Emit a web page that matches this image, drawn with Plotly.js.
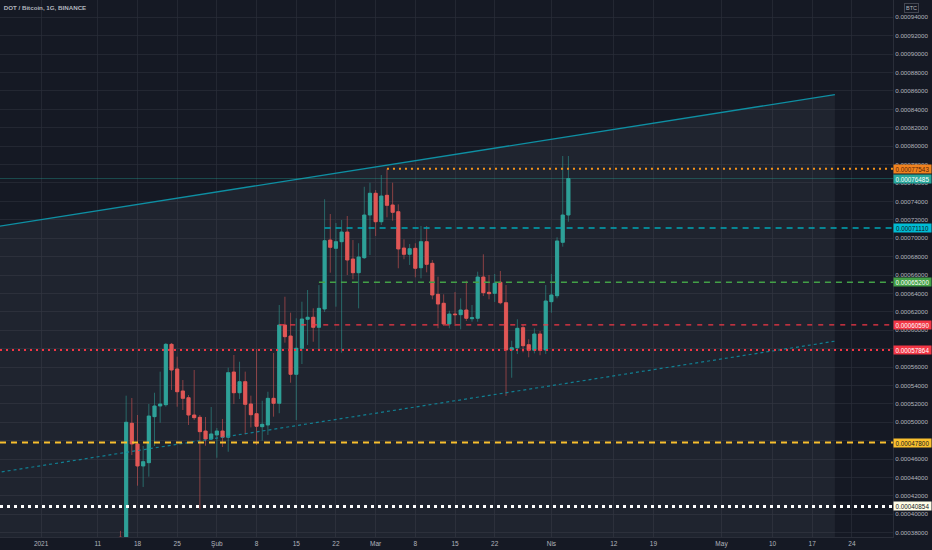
<!DOCTYPE html>
<html>
<head>
<meta charset="utf-8">
<script src="https://cdn.plot.ly/plotly-3.0.1.min.js"></script>
<style>
html,body{margin:0;padding:0;background:#151924;}
#chart{width:932px;height:550px;}
</style>
</head>
<body>
<div id="chart"></div>
<script>
// ---- data (DOT/BTC daily) ----
var firstCandleDate = '2021-01-15';
var open = [0.000375,0.00037,0.0004989,0.0004764,0.0004525,0.0004561,0.0005061,0.0005177,0.0005191,0.0005847,
0.0005579,0.000534,0.0005267,0.0005079,0.0005054,0.0004905,0.0004818,0.0004862,0.0004905,0.0004837,
0.0005546,0.0005321,0.0005441,0.0005199,0.0005093,0.0004952,0.000497,0.000526,0.0005206,0.0006057,
0.0005937,0.0005521,0.0005804,0.0006119,0.0006141,0.0006032,0.0006231,0.000698,0.000689,0.0006962,
0.0007067,0.0006774,0.0006625,0.0006788,0.0007252,0.0007488,0.0007179,0.0007466,0.0007361,0.0007288,
0.0006893,0.0006825,0.000689,0.0006679,0.0006962,0.0006727,0.000639,0.0006293,0.0006068,0.0006176,
0.0006169,0.000622,0.0006125,0.000613,0.0006578,0.0006412,0.0006401,0.0006521,0.0006299,0.0005785,
0.000581,0.0006028,0.0005843,0.0005782,0.0005959,0.0005785,0.000631,0.0006375,0.0006955,0.0007252];
var high = [0.000382,0.0005289,0.0005264,0.0005079,0.0004742,0.0005199,0.0005321,0.000555,0.0005861,0.0005861,
0.0005713,0.0005459,0.0005296,0.0005568,0.0005079,0.0005057,0.0005166,0.0004938,0.0005036,0.0005593,
0.0005731,0.0005658,0.000555,0.0005289,0.0005796,0.0005234,0.0005332,0.0005753,0.0006274,0.0006364,
0.0006191,0.000613,0.000631,0.0006437,0.0006238,0.0006491,0.0007423,0.0007263,0.0007165,0.0007198,
0.0007241,0.000698,0.0006945,0.0007559,0.0007603,0.0007524,0.0007687,0.00077543,0.0007603,0.0007368,
0.0006988,0.0006937,0.0006945,0.0007133,0.0007133,0.0006763,0.0006582,0.000639,0.0006212,0.0006415,
0.0006347,0.0006538,0.0006274,0.0006636,0.0006825,0.00066,0.0006611,0.0006644,0.0006491,0.0005886,
0.0006119,0.0006057,0.0005902,0.0006021,0.0005992,0.0006491,0.0006611,0.000701,0.0007893,0.0007893];
var low = [0.00035,0.000365,0.0004644,0.0004311,0.0004297,0.0004409,0.0004742,0.0004995,0.000517,0.0005351,
0.0005169,0.0005133,0.000497,0.0005025,0.0004054,0.0004745,0.0004807,0.0004615,0.0004731,0.000468,
0.0005199,0.0005253,0.0004869,0.0004945,0.0004753,0.00048,0.0004862,0.0005061,0.0005098,0.0005865,
0.000543,0.0005025,0.0005633,0.000584,0.0005875,0.0005793,0.0006198,0.0006625,0.0006256,0.0005756,
0.00066,0.0006553,0.0006238,0.0006774,0.0006817,0.0007024,0.0007143,0.0007227,0.000719,0.0006673,
0.0006771,0.0006709,0.0006575,0.0006564,0.0006629,0.0006336,0.0006021,0.0006046,0.0006021,0.0006046,
0.000601,0.00061,0.0006093,0.0006093,0.0006372,0.0006336,0.0006307,0.0006282,0.0005285,0.0005484,
0.0005742,0.000576,0.0005706,0.0005749,0.0005728,0.0005742,0.0006191,0.0006347,0.0006908,0.0007179];
var close = [0.00036,0.0005,0.0004764,0.0004525,0.0004572,0.0005068,0.0005177,0.0005199,0.0005847,0.0005568,
0.0005332,0.000526,0.0005079,0.000505,0.0004898,0.0004818,0.0004873,0.0004905,0.0004837,0.0005539,
0.0005321,0.0005441,0.0005195,0.0005082,0.0004956,0.0004978,0.000526,0.0005206,0.0006057,0.000593,
0.0005521,0.0005804,0.0006122,0.0006141,0.0006032,0.0006238,0.0006973,0.0006901,0.0006962,0.0007067,
0.0006763,0.0006625,0.0006796,0.0007252,0.0007488,0.0007179,0.0007458,0.0007357,0.0007281,0.0006883,
0.0006825,0.0006886,0.0006673,0.0006962,0.0006716,0.0006383,0.0006285,0.0006068,0.0006176,0.0006169,
0.000622,0.000613,0.0006136,0.0006578,0.0006408,0.0006397,0.000651,0.0006299,0.0005785,0.000581,
0.0006021,0.0005832,0.0005782,0.0005959,0.0005782,0.0006318,0.0006383,0.000697,0.0007252,0.00076485];

// channel (upper solid line, lower dotted line)
var channelDates = ['2020-12-24', '2021-05-21'];
var channelUpper = [0.0007124, 0.0008560];
var channelLower = [0.0004451, 0.0005881];

// horizontal levels
var levelValues = [0.00077543, 0.00071110, 0.00065200, 0.00060590, 0.00057864, 0.00047800, 0.00040854];
var levelStarts = ['2021-03-03', '2021-02-20', '2021-02-19', '2021-02-12', null, null, null];
var lastPrice = 0.00076485;

// x tick labels
var xTickDates = ['2021-01-01','2021-01-11','2021-01-18','2021-01-25','2021-02-01','2021-02-08','2021-02-15','2021-02-22',
  '2021-03-01','2021-03-08','2021-03-15','2021-03-22','2021-04-01','2021-04-12','2021-04-19','2021-05-01',
  '2021-05-10','2021-05-17','2021-05-24'];
var xTickText = ['2021','11','18','25','Şub','8','15','22','Mar','8','15','22','Nis','12','19','May','10','17','24'];

// ---- styling ----
var xRange = ['2020-12-24 18:00', '2021-05-31 06:00'];
var yRange = [0.00037535, 0.0009588];
var levelStyles = [
  {color:'#f7931a', dash:'2px,4px', width:2, box:'#f0821e', txt:'#5a2208'},
  {color:'#00a5b5', dash:'6px,5px', width:1.5, box:'#00bcd4', txt:'#131722'},
  {color:'#43a047', dash:'6px,5px', width:1.5, box:'#43a047', txt:'#ffffff'},
  {color:'#f23645', dash:'5px,6px', width:1.3, box:'#f23645', txt:'#ffffff'},
  {color:'#f23645', dash:'2px,4px', width:2, box:'#f23645', txt:'#ffffff'},
  {color:'#f9c02f', dash:'6px,5px', width:2, box:'#f9c02f', txt:'#131722'},
  {color:'#ffffff', dash:'3px,4px', width:3, box:'#fffde7', txt:'#131722'}
];

var dates = [];
(function(){
  var d0 = new Date(firstCandleDate + 'T00:00:00Z');
  for (var i = 0; i < open.length; i++) {
    var d = new Date(d0.getTime() + i * 86400000);
    dates.push(d.toISOString().slice(0,10));
  }
})();
var bodyHigh = open.map(function(o,i){return Math.max(o, close[i]);});
var bodyLow = open.map(function(o,i){return Math.min(o, close[i]);});

var traces = [];
// channel shading (upper line down to bottom)
traces.push({
  type:'scatter', mode:'lines',
  x:[channelDates[0], channelDates[1], channelDates[1], channelDates[0]],
  y:[channelUpper[0], channelUpper[1], yRange[0] - 0.00005, yRange[0] - 0.00005],
  fill:'toself', fillcolor:'rgba(120,123,134,0.11)', line:{width:0}, hoverinfo:'skip', showlegend:false
});
// wicks (dim)
traces.push({
  type:'candlestick', x:dates, open:open, high:high, low:low, close:close,
  increasing:{line:{color:'rgba(38,166,154,0.55)', width:1}, fillcolor:'#26a69a'},
  decreasing:{line:{color:'rgba(239,83,80,0.55)', width:1}, fillcolor:'#ef5350'},
  whiskerwidth:0, hoverinfo:'skip', showlegend:false
});
// bodies (bright)
traces.push({
  type:'candlestick', x:dates, open:open, high:bodyHigh, low:bodyLow, close:close,
  increasing:{line:{color:'#26a69a', width:0.6}, fillcolor:'#26a69a'},
  decreasing:{line:{color:'#ef5350', width:0.6}, fillcolor:'#ef5350'},
  whiskerwidth:0, hoverinfo:'skip', showlegend:false
});
// channel lines
traces.push({type:'scatter', mode:'lines', x:channelDates, y:channelUpper,
  line:{color:'#0e8fa3', width:1.4}, hoverinfo:'skip', showlegend:false});
traces.push({type:'scatter', mode:'lines', x:channelDates, y:channelLower,
  line:{color:'rgba(14,143,163,0.85)', width:1.2, dash:'3px,3px'}, hoverinfo:'skip', showlegend:false});

var shapes = [];
// last price line
shapes.push({type:'line', xref:'x', yref:'y', x0:xRange[0], x1:xRange[1], y0:lastPrice, y1:lastPrice,
  line:{color:'rgba(38,166,154,0.35)', width:1}, layer:'above'});
levelValues.forEach(function(v,i){
  var s = levelStyles[i];
  shapes.push({type:'line', xref:'x', yref:'y', x0: levelStarts[i] || xRange[0], x1:xRange[1], y0:v, y1:v,
    line:{color:s.color, width:s.width, dash:s.dash}, layer:'above'});
});

var annotations = [];
var labelFont = {family:'Liberation Sans, Arial, sans-serif', size:6.3};
function priceLabel(v, bg, txt) {
  return {xref:'paper', yref:'y', x:1, y:v, xanchor:'left', yanchor:'middle', xshift:0,
    text:v.toFixed(8), showarrow:false, bgcolor:bg, width:37, height:8, borderpad:0,
    font:{family:labelFont.family, size:labelFont.size, color:txt}, align:'center'};
}
levelValues.forEach(function(v,i){ annotations.push(priceLabel(v, levelStyles[i].box, levelStyles[i].txt)); });
annotations.push(priceLabel(lastPrice, '#26a69a', '#ffffff'));
annotations.push({xref:'paper', yref:'paper', x:1, y:1, xanchor:'center', yanchor:'middle', xshift:18, yshift:-8,
  text:'BTC', showarrow:false, bordercolor:'#434651', borderwidth:1, borderpad:1,
  font:{family:labelFont.family, size:5.5, color:'#b2b5be'}});

var layout = {
  width:932, height:550,
  margin:{l:0, r:39, t:0, b:13, pad:0},
  paper_bgcolor:'#151924', plot_bgcolor:'#151924',
  font:{family:'Liberation Sans, Arial, sans-serif', color:'#b2b5be', size:6.5},
  title:{text:'<b>DOT / Bitcoin, 1G, BINANCE</b>', x:0.004, xanchor:'left', y:0.985, yanchor:'middle',
    font:{family:'Liberation Sans, Arial, sans-serif', size:6.2, color:'#b2b5be'}},
  showlegend:false,
  boxgap:0.2, boxmode:'overlay',
  xaxis:{type:'date', range:xRange, rangeslider:{visible:false},
    tickmode:'array', tickvals:xTickDates, ticktext:xTickText,
    tickfont:{size:6.5, color:'#b2b5be'}, ticks:'', showgrid:true, gridcolor:'rgba(42,46,57,0.7)', gridwidth:1,
    showline:true, linecolor:'#2a2e39', linewidth:1, zeroline:false, fixedrange:true},
  yaxis:{side:'right', range:yRange, tick0:0.00038, dtick:0.00002, tickformat:'.8f',
    tickfont:{size:6.2, color:'#b2b5be'}, ticks:'', showgrid:true, gridcolor:'rgba(42,46,57,0.7)', gridwidth:1,
    showline:true, linecolor:'#2a2e39', linewidth:1, zeroline:false, fixedrange:true},
  shapes:shapes,
  annotations:annotations
};

Plotly.newPlot('chart', traces, layout, {displayModeBar:false, staticPlot:true});
</script>
</body>
</html>
